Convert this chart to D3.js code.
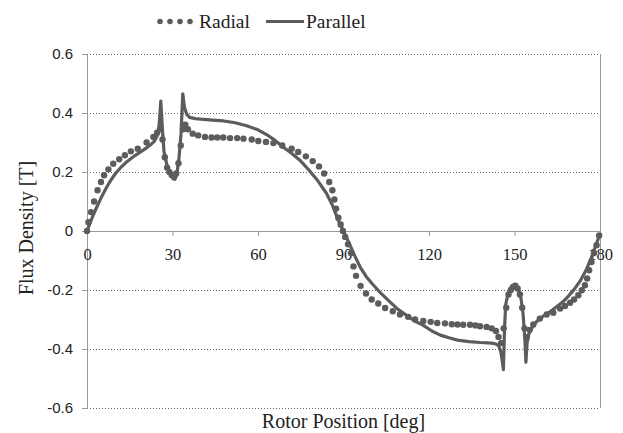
<!DOCTYPE html>
<html>
<head>
<meta charset="utf-8">
<script src="https://cdn.jsdelivr.net/npm/d3@7/dist/d3.min.js"></script>
<style>
  body { margin: 0; background: #fff; }
</style>
</head>
<body>
<svg id="chart" width="623" height="433"></svg>
<script>
// ---- data ----
const xTicks = [0, 30, 60, 90, 120, 150, 180];
const yTicks = [-0.6, -0.4, -0.2, 0, 0.2, 0.4, 0.6];
const yTickLabels = ["-0.6", "-0.4", "-0.2", "0", "0.2", "0.4", "0.6"];
const seriesNames = ["Radial", "Parallel"];

const parallelDeg = [0,1,2,3,4,5,6,7,8,9,10,12,14,16,18,20,22,23.5,24.5,25.2,25.9,26.5,27,28,29,30,30.8,31.5,32.3,33,33.6,34.2,35,36,38,40,44,48,52,56,60,63,66,69,72,75,78,81,84,86,88,90,92,94,96,98,100,103,106,109,112,115,118,121,124,127,130,134,138,142,143.5,144.5,145.2,145.7,146.1,146.5,146.9,147.8,148.8,149.8,150.5,151.5,152.3,153,153.6,154,154.4,155,156,157.5,159,161,163,165,167,169,171,173,175,177,178.5,180];
const parallelVal = [0,0.025,0.05,0.072,0.093,0.113,0.132,0.15,0.167,0.181,0.195,0.217,0.235,0.25,0.263,0.276,0.29,0.303,0.32,0.345,0.44,0.34,0.27,0.225,0.2,0.18,0.175,0.19,0.25,0.33,0.465,0.42,0.395,0.385,0.381,0.379,0.376,0.373,0.367,0.357,0.343,0.327,0.307,0.283,0.262,0.237,0.205,0.17,0.128,0.09,0.04,0,-0.042,-0.085,-0.125,-0.155,-0.178,-0.21,-0.238,-0.265,-0.285,-0.305,-0.32,-0.339,-0.353,-0.362,-0.37,-0.375,-0.378,-0.38,-0.383,-0.39,-0.41,-0.44,-0.47,-0.33,-0.25,-0.21,-0.19,-0.182,-0.183,-0.2,-0.23,-0.28,-0.36,-0.445,-0.38,-0.35,-0.33,-0.31,-0.295,-0.283,-0.27,-0.255,-0.24,-0.22,-0.197,-0.17,-0.135,-0.09,-0.05,-0.01];

const radialDeg = [0,0.5,1.4,2.5,3.7,4.9,6,7.5,9.2,11.3,13.3,15.4,17.8,20.9,23.3,24.6,25.6,26.5,27.3,28.1,28.9,29.7,30.5,31.3,32.1,32.9,33.7,34.5,35.4,37.1,39,41.4,43.7,45.7,47.8,50.2,52.7,54.9,57.8,60.1,62.8,65.4,68.5,71.8,74.1,76.8,79.2,81.4,83.2,85,86.1,86.8,87.4,88.2,89,89.8,90.6,91.6,92.6,93.5,94.4,96,97.9,99.9,102.2,104.6,107.3,109.8,112.7,115.1,118,120.6,122.9,125.6,128,130,132,134.4,136.3,137.9,140.2,142,143.5,144.4,145.3,146.2,147.1,147.9,148.7,149.5,150.3,151.1,151.9,152.7,153.5,154.3,155.3,156.6,158.9,161.3,163.6,166,167.7,169.5,170.9,172.4,173.6,174.7,175.5,176.2,177,177.9,178.8,179.7];
const radialVal = [0,0.03,0.064,0.1,0.138,0.166,0.189,0.209,0.228,0.243,0.257,0.27,0.279,0.3,0.319,0.333,0.345,0.31,0.25,0.215,0.2,0.19,0.183,0.195,0.23,0.29,0.345,0.36,0.345,0.33,0.324,0.319,0.317,0.317,0.317,0.315,0.315,0.313,0.31,0.305,0.302,0.298,0.29,0.279,0.268,0.253,0.237,0.219,0.195,0.166,0.138,0.107,0.076,0.045,0.022,0,-0.02,-0.045,-0.075,-0.12,-0.152,-0.186,-0.212,-0.232,-0.246,-0.261,-0.272,-0.283,-0.291,-0.3,-0.305,-0.308,-0.312,-0.313,-0.316,-0.317,-0.318,-0.318,-0.32,-0.323,-0.325,-0.33,-0.339,-0.359,-0.38,-0.33,-0.26,-0.215,-0.2,-0.19,-0.185,-0.195,-0.215,-0.26,-0.33,-0.36,-0.335,-0.317,-0.297,-0.283,-0.277,-0.263,-0.254,-0.243,-0.232,-0.218,-0.201,-0.184,-0.161,-0.133,-0.105,-0.075,-0.048,-0.015];

// ---- layout ----
const svg = d3.select("#chart");
const mLeft = 87, mRight = 600, mTop = 54, mBottom = 408;
const x = d3.scaleLinear().domain([0, 180]).range([mLeft, mRight]);
const y = d3.scaleLinear().domain([-0.6, 0.6]).range([mBottom, mTop]);
const markColor = "#5c5c5c";
const serif = "'Liberation Serif', 'Times New Roman', serif";
const sans = "'Liberation Sans', Arial, sans-serif";

// gridlines (dotted), except the zero line
svg.append("g").selectAll("line")
  .data(yTicks.filter(v => v !== 0))
  .join("line")
  .attr("x1", mLeft).attr("x2", mRight)
  .attr("y1", d => y(d)).attr("y2", d => y(d))
  .attr("stroke", "#666").attr("stroke-width", 1)
  .attr("stroke-dasharray", "1,2")
  .attr("shape-rendering", "crispEdges");

// right border
svg.append("line")
  .attr("x1", mRight).attr("x2", mRight).attr("y1", mTop).attr("y2", mBottom)
  .attr("stroke", "#999").attr("shape-rendering", "crispEdges");

// y axis
const yAxis = d3.axisLeft(y).tickValues(yTicks).tickSize(5)
  .tickFormat((d, i) => yTickLabels[i]);
const gy = svg.append("g").attr("transform", `translate(${mLeft},0)`).call(yAxis);
gy.select(".domain").attr("stroke", "#999");
gy.selectAll(".tick line").attr("stroke", "#999");
gy.selectAll(".tick text").attr("x", -14)
  .style("font-family", sans).style("font-size", "15px").style("fill", "#222");

// x axis on the zero line
const xAxis = d3.axisBottom(x).tickValues(xTicks).tickSize(5).tickFormat(d3.format("d"));
const gx = svg.append("g").attr("transform", `translate(0,${y(0)})`).call(xAxis);
gx.select(".domain").attr("stroke", "#999");
gx.selectAll(".tick line").attr("stroke", "#999");
gx.selectAll(".tick text").attr("dy", "1.3em")
  .style("font-family", serif).style("font-size", "16.5px").style("fill", "#222");

// series
const parallelData = parallelDeg.map((d, i) => ({x: d, y: parallelVal[i]}));
const radialData = radialDeg.map((d, i) => ({x: d, y: radialVal[i]}));

svg.append("g").selectAll("circle")
  .data(radialData)
  .join("circle")
  .attr("cx", d => x(d.x)).attr("cy", d => y(d.y)).attr("r", 3.2)
  .attr("fill", markColor);

const line = d3.line().x(d => x(d.x)).y(d => y(d.y));
svg.append("path")
  .datum(parallelData)
  .attr("d", line)
  .attr("fill", "none").attr("stroke", markColor)
  .attr("stroke-width", 3.2).attr("stroke-linejoin", "round");

// axis titles
svg.append("text")
  .attr("x", (mLeft + mRight) / 2).attr("y", 428)
  .attr("text-anchor", "middle")
  .style("font-family", serif).style("font-size", "20px").style("fill", "#222")
  .text("Rotor Position [deg]");
svg.append("text")
  .attr("transform", `translate(33,${(mTop + mBottom) / 2 - 3}) rotate(-90)`)
  .attr("text-anchor", "middle")
  .style("font-family", serif).style("font-size", "20px").style("fill", "#222")
  .text("Flux Density [T]");

// legend
const lg = svg.append("g");
lg.selectAll("circle").data([160, 170, 180, 190]).join("circle")
  .attr("cx", d => d).attr("cy", 21.5).attr("r", 2.8).attr("fill", markColor);
lg.append("text").attr("x", 199).attr("y", 28)
  .style("font-family", serif).style("font-size", "19.5px").style("fill", "#222")
  .text(seriesNames[0]);
lg.append("line").attr("x1", 266).attr("x2", 304).attr("y1", 21.5).attr("y2", 21.5)
  .attr("stroke", markColor).attr("stroke-width", 3);
lg.append("text").attr("x", 306).attr("y", 28)
  .style("font-family", serif).style("font-size", "19.5px").style("fill", "#222")
  .text(seriesNames[1]);
</script>
</body>
</html>
